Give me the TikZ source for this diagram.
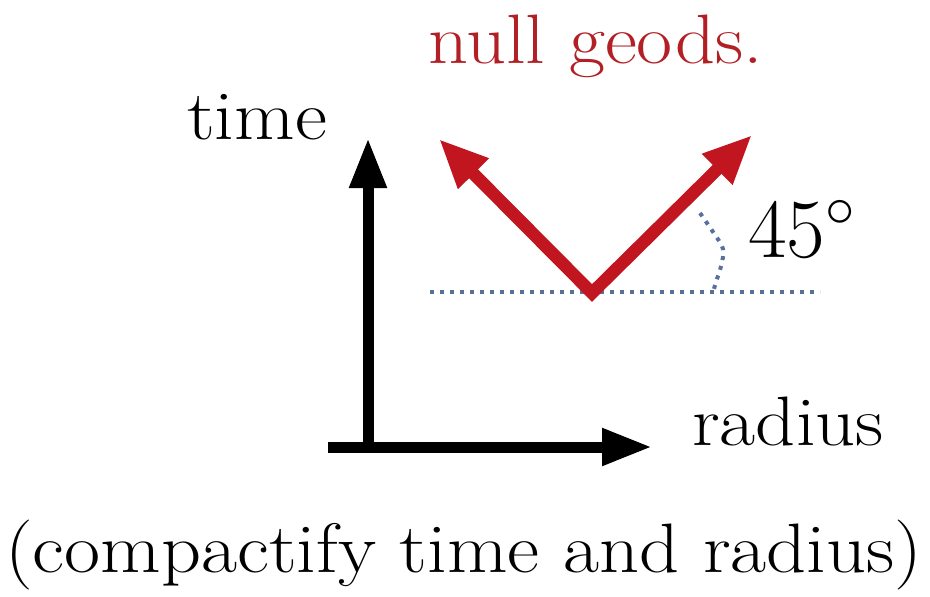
\RequirePackage{fix-cm}
\documentclass[tikz,border=0pt]{standalone}
\usepackage{fontspec}
\setmainfont[FakeStretch=1.12]{Latin Modern Roman}
\usetikzlibrary{arrows.meta}
\definecolor{geored}{RGB}{193,22,32}
\definecolor{geotext}{RGB}{178,32,38}
\definecolor{slate}{RGB}{88,112,156}
\tikzset{
  lbl/.style={inner sep=0pt, anchor=base west, font=\fontsize{70}{74}\selectfont},
  axis/.style={line width=11pt, black, -{Triangle[length=50pt,width=35pt]}},
  nullgeo/.style={line width=12.5pt, geored, line join=miter,
     {Triangle[length=49pt,width=40pt]}-{Triangle[length=49pt,width=40pt]}},
  dotline/.style={line width=4pt, slate, dash pattern=on 4pt off 6pt}
}
\begin{document}
\begin{tikzpicture}[x=1pt,y=-1pt]
\useasboundingbox (0,0) rectangle (930,597);
% coordinates
\coordinate (hstart) at (328,447);
\coordinate (htip) at (652,447);
\coordinate (vstart) at (368,447);
\coordinate (vtip) at (368,138);
\coordinate (vertex) at (592,293);
\coordinate (ltip) at (439,139);
\coordinate (rtip) at (752,135);
\coordinate (dl) at (430,292);
\coordinate (dr) at (820,292);
% axes
\draw[axis] (vstart) -- (vtip);
\draw[axis] (hstart) -- (htip);
% dotted reference line and angle mark
\draw[dotline] (dl) -- (dr);
\draw[dotline] plot[smooth, tension=0.6] coordinates {(700,213) (713,232) (723,249) (721,266) (717,279) (713,292)};
% null geodesics
\draw[nullgeo] (ltip) -- (vertex) -- (rtip);
% labels
\node[lbl] (time) at (187,139) {time};
\node[lbl, text=geotext] (nullg) at (428,63) {null geods.};
\node[lbl] (radius) at (692,445) {radius};
\node[inner sep=0pt, anchor=base west, font=\fontsize{84}{90}\selectfont] (angle) at (748,257) {$45^\circ$};
\node[lbl] (caption) at (5,572) {(compactify time and radius)};
\end{tikzpicture}
\end{document}
